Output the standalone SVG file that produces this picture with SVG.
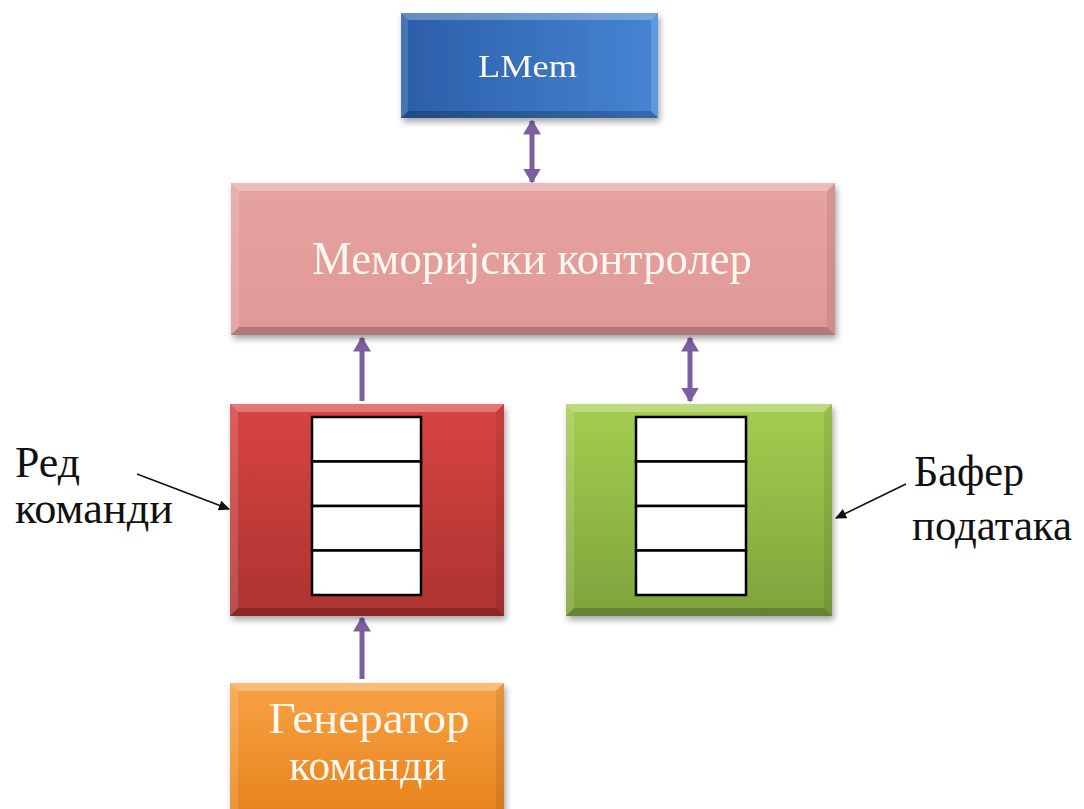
<svg xmlns="http://www.w3.org/2000/svg" width="1084" height="809" viewBox="0 0 1084 809">
  <defs>
    <style>
      .box-text { font-family: "Liberation Serif", "DejaVu Serif", serif; fill: #fdf8f0; text-anchor: middle; }
      .label { font-family: "Liberation Serif", "DejaVu Serif", serif; fill: #111; }
      .cell { fill: #ffffff; stroke: #000; stroke-width: 2.5; }
      .link { stroke: #7b5fa0; stroke-width: 5; fill: none; }
      .pointer { stroke: #111; stroke-width: 1.6; fill: none; }
      .bev-top { fill: #ffffff; opacity: 0.28; }
      .bev-left { fill: #ffffff; opacity: 0.14; }
      .bev-right { fill: #000000; opacity: 0.08; }
      .bev-bottom { fill: #000000; opacity: 0.2; }
    </style>
    <linearGradient id="gBlue" x1="0" y1="0" x2="1" y2="0">
      <stop offset="0" stop-color="#2b5ea8"/>
      <stop offset="1" stop-color="#4685d2"/>
    </linearGradient>
    <linearGradient id="gPink" x1="0" y1="0" x2="0" y2="1">
      <stop offset="0" stop-color="#e6a3a1"/>
      <stop offset="1" stop-color="#e09896"/>
    </linearGradient>
    <linearGradient id="gRed" x1="0" y1="0" x2="0" y2="1">
      <stop offset="0" stop-color="#d84442"/>
      <stop offset="1" stop-color="#ad3331"/>
    </linearGradient>
    <linearGradient id="gGreen" x1="0" y1="0" x2="0" y2="1">
      <stop offset="0" stop-color="#a4ce50"/>
      <stop offset="1" stop-color="#7ea33c"/>
    </linearGradient>
    <linearGradient id="gOrange" x1="0" y1="0" x2="0" y2="1">
      <stop offset="0" stop-color="#f8a244"/>
      <stop offset="1" stop-color="#e5811a"/>
    </linearGradient>
    <filter id="shadow" x="-10%" y="-10%" width="125%" height="130%">
      <feDropShadow dx="2" dy="4" stdDeviation="3" flood-color="#000" flood-opacity="0.35"/>
    </filter>
    <marker id="head" viewBox="0 0 10 12" refX="9" refY="6" markerWidth="3" markerHeight="3.6" orient="auto-start-reverse">
      <path d="M0,0 L10,6 L0,12 z" fill="#7b5fa0"/>
    </marker>
    <marker id="tip" viewBox="0 0 10 10" refX="9" refY="5" markerWidth="9" markerHeight="7" orient="auto">
      <path d="M0,0.5 L10,5 L0,9.5 z" fill="#111"/>
    </marker>
  </defs>

  <rect width="1084" height="809" fill="#ffffff"/>

  <!-- connectors between blocks -->
  <g id="connectors">
    <line class="link" x1="532" y1="121" x2="532" y2="182" marker-start="url(#head)" marker-end="url(#head)"/>
    <line class="link" x1="362" y1="401" x2="362" y2="338" marker-end="url(#head)"/>
    <line class="link" x1="690" y1="338" x2="690" y2="401" marker-start="url(#head)" marker-end="url(#head)"/>
    <line class="link" x1="362" y1="679" x2="362" y2="618" marker-end="url(#head)"/>
    <line class="pointer" x1="137" y1="474" x2="229" y2="509" marker-end="url(#tip)"/>
    <line class="pointer" x1="906" y1="484" x2="836" y2="518" marker-end="url(#tip)"/>
  </g>

  <!-- LMem -->
  <g id="lmem" filter="url(#shadow)">
    <rect x="401" y="13" width="257" height="105" fill="url(#gBlue)"/>
    <polygon class="bev-top" points="401,13 658,13 651,20 408,20"/>
    <polygon class="bev-left" points="401,13 408,20 408,111 401,118"/>
    <polygon fill="#8fc0f0" opacity="0.35" points="658,13 658,118 651,111 651,20"/>
    <polygon class="bev-bottom" points="401,118 658,118 651,111 408,111"/>
    <text class="box-text" x="527.5" y="77" font-size="31" textLength="99" lengthAdjust="spacingAndGlyphs">LMem</text>
  </g>

  <!-- Memory controller -->
  <g id="controller" filter="url(#shadow)">
    <rect x="231" y="183" width="604" height="152" fill="url(#gPink)"/>
    <polygon class="bev-top" points="231,183 835,183 827,191 239,191"/>
    <polygon class="bev-left" points="231,183 239,191 239,327 231,335"/>
    <polygon class="bev-right" points="835,183 835,335 827,327 827,191"/>
    <polygon class="bev-bottom" points="231,335 835,335 827,327 239,327"/>
    <text class="box-text" x="532" y="274" font-size="46" textLength="440" lengthAdjust="spacingAndGlyphs">Меморијски контролер</text>
  </g>

  <!-- Command queue -->
  <g id="command-queue" filter="url(#shadow)">
    <rect x="230" y="404" width="274" height="212" fill="url(#gRed)"/>
    <polygon class="bev-top" points="230,404 504,404 496,412 238,412"/>
    <polygon class="bev-left" points="230,404 238,412 238,608 230,616"/>
    <polygon class="bev-right" points="504,404 504,616 496,608 496,412"/>
    <polygon class="bev-bottom" points="230,616 504,616 496,608 238,608"/>
  </g>
  <g id="command-queue-slots">
    <rect class="cell" x="312" y="417" width="109" height="44.5"/>
    <rect class="cell" x="312" y="461.5" width="109" height="44.5"/>
    <rect class="cell" x="312" y="506" width="109" height="44.5"/>
    <rect class="cell" x="312" y="550.5" width="109" height="44.5"/>
  </g>

  <!-- Data buffer -->
  <g id="data-buffer" filter="url(#shadow)">
    <rect x="566" y="404" width="266" height="212" fill="url(#gGreen)"/>
    <polygon class="bev-top" points="566,404 832,404 824,412 574,412"/>
    <polygon class="bev-left" points="566,404 574,412 574,608 566,616"/>
    <polygon class="bev-right" points="832,404 832,616 824,608 824,412"/>
    <polygon class="bev-bottom" points="566,616 832,616 824,608 574,608"/>
  </g>
  <g id="data-buffer-slots">
    <rect class="cell" x="636" y="417" width="110" height="44.5"/>
    <rect class="cell" x="636" y="461.5" width="110" height="44.5"/>
    <rect class="cell" x="636" y="506" width="110" height="44.5"/>
    <rect class="cell" x="636" y="550.5" width="110" height="44.5"/>
  </g>

  <!-- Command generator -->
  <g id="command-generator" filter="url(#shadow)">
    <rect x="230" y="683" width="274" height="140" fill="url(#gOrange)"/>
    <polygon class="bev-top" points="230,683 504,683 496,691 238,691"/>
    <polygon class="bev-left" points="230,683 238,691 238,809 230,809"/>
    <polygon class="bev-right" points="504,683 504,809 496,809 496,691"/>
    <text class="box-text" x="369" y="733" font-size="44" textLength="201" lengthAdjust="spacingAndGlyphs">Генератор</text>
    <text class="box-text" x="367.5" y="780" font-size="45" textLength="157" lengthAdjust="spacingAndGlyphs">команди</text>
  </g>

  <!-- Side labels -->
  <g id="label-queue">
    <text class="label" x="15" y="477" font-size="45" textLength="65" lengthAdjust="spacingAndGlyphs">Ред</text>
    <text class="label" x="15" y="523" font-size="45" textLength="158" lengthAdjust="spacingAndGlyphs">команди</text>
  </g>
  <g id="label-buffer">
    <text class="label" x="914" y="486" font-size="44" textLength="110" lengthAdjust="spacingAndGlyphs">Бафер</text>
    <text class="label" x="912" y="540" font-size="45" textLength="160" lengthAdjust="spacingAndGlyphs">података</text>
  </g>
</svg>
